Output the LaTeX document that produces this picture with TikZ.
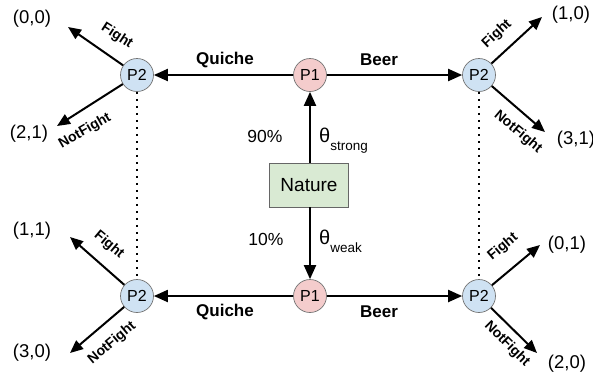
\documentclass[tikz,border=0pt]{standalone}
\usepackage{fontspec}
\setmainfont{Liberation Sans}
\usetikzlibrary{arrows.meta}
\definecolor{pone}{HTML}{F4CCCC}
\definecolor{ptwo}{HTML}{CFE2F3}
\definecolor{natc}{HTML}{D9EAD3}
\tikzset{
  pl/.style={circle,draw=black!55,line width=0.7pt,minimum size=33pt,inner sep=0pt,font=\fontsize{16}{16}\selectfont},
  pa/.style={pl,fill=pone},
  pb/.style={pl,fill=ptwo},
  arr/.style={line width=2pt,-{Triangle[width=12pt,length=14pt]}},
  sarr/.style={line width=2pt,-{Triangle[width=11pt,length=13pt]}},
  infoset/.style={line width=2pt,dash pattern=on 2pt off 5pt},
  pay/.style={font=\fontsize{18.5}{18.5}\selectfont,inner sep=0pt},
  act/.style={font=\bfseries\fontsize{17}{17}\selectfont,inner sep=0pt},
  small/.style={font=\bfseries\fontsize{14}{14}\selectfont,inner sep=0pt},
  pct/.style={font=\fontsize{17.5}{17.5}\selectfont,inner sep=0pt},
}
\begin{document}
\begin{tikzpicture}[x=1pt,y=-1pt]
\useasboundingbox (0,0) rectangle (593,376);
\node[pa] (p1t) at (310,75) {P1};
\node[pa] (p1b) at (310,296) {P1};
\node[pb] (p2tl) at (137,75) {P2};
\node[pb] (p2tr) at (479,75) {P2};
\node[pb] (p2bl) at (137,296) {P2};
\node[pb] (p2br) at (479,296) {P2};
\node[draw=black!60,fill=natc,line width=0.7pt,minimum width=79pt,minimum height=44pt,inner sep=0pt,font=\fontsize{19}{19}\selectfont] (nat) at (309,185) {Nature};
% main arrows
\draw[arr] (p1t) -- (p2tl);
\draw[arr] (p1t) -- (p2tr);
\draw[arr] (p1b) -- (p2bl);
\draw[arr] (p1b) -- (p2br);
\draw[arr] (nat.north -| p1t) -- (p1t);
\draw[arr] (nat.south -| p1b) -- (p1b);
% dotted info sets
\draw[infoset] (p2tl) -- (p2bl);
\draw[infoset] (p2tr) -- (p2br);
% tips
\coordinate (t1) at (68,27);
\coordinate (t2) at (57,126);
\coordinate (t3) at (542,17);
\coordinate (t4) at (545,132);
\coordinate (t5) at (70,237);
\coordinate (t6) at (70,353);
\coordinate (t7) at (540,245);
\coordinate (t8) at (537,353);
\draw[sarr] (p2tl) -- (t1);
\draw[sarr] (p2tl) -- (t2);
\draw[sarr] (p2tr) -- (t3);
\draw[sarr] (p2tr) -- (t4);
\draw[sarr] (p2bl) -- (t5);
\draw[sarr] (p2bl) -- (t6);
\draw[sarr] (p2br) -- (t7);
\draw[sarr] (p2br) -- (t8);
% payoffs
\node[pay] (o1) at (32,19) {(0,0)};
\node[pay] (o2) at (29,134) {(2,1)};
\node[pay] (o3) at (571,15) {(1,0)};
\node[pay] (o4) at (576,140) {(3,1)};
\node[pay] (o5) at (32,231) {(1,1)};
\node[pay] (o6) at (32,353) {(3,0)};
\node[pay] (o7) at (567,245) {(0,1)};
\node[pay] (o8) at (567,364) {(2,0)};
% action labels
\node[act] (q1) at (225,60) {Quiche};
\node[act] (b1) at (379,60) {Beer};
\node[act] (q2) at (225,312) {Quiche};
\node[act] (b2) at (379,312) {Beer};
\node[small,rotate=-33] (f1) at (117,36) {Fight};
\node[small,rotate=30] (n1) at (85,131) {NotFight};
\node[small,rotate=43] (f2) at (497,34) {Fight};
\node[small,rotate=-40] (n2) at (518,132) {NotFight};
\node[small,rotate=-40] (f3) at (109,245) {Fight};
\node[small,rotate=40] (n3) at (112,343) {NotFight};
\node[small,rotate=40] (f4) at (503,247) {Fight};
\node[small,rotate=-45] (n4) at (507,344) {NotFight};
% probabilities
\node[pct] (pc1) at (265,136) {90\%};
\node[pct] (pc2) at (266,239) {10\%};
\node[inner sep=0pt,anchor=base west] (th1) at (319,142) {{\fontsize{20}{20}\selectfont θ}\raisebox{-8pt}{\fontsize{13.5}{13.5}\selectfont strong}};
\node[inner sep=0pt,anchor=base west] (th2) at (319,244) {{\fontsize{20}{20}\selectfont θ}\raisebox{-8pt}{\fontsize{13.5}{13.5}\selectfont weak}};
\end{tikzpicture}
\end{document}
